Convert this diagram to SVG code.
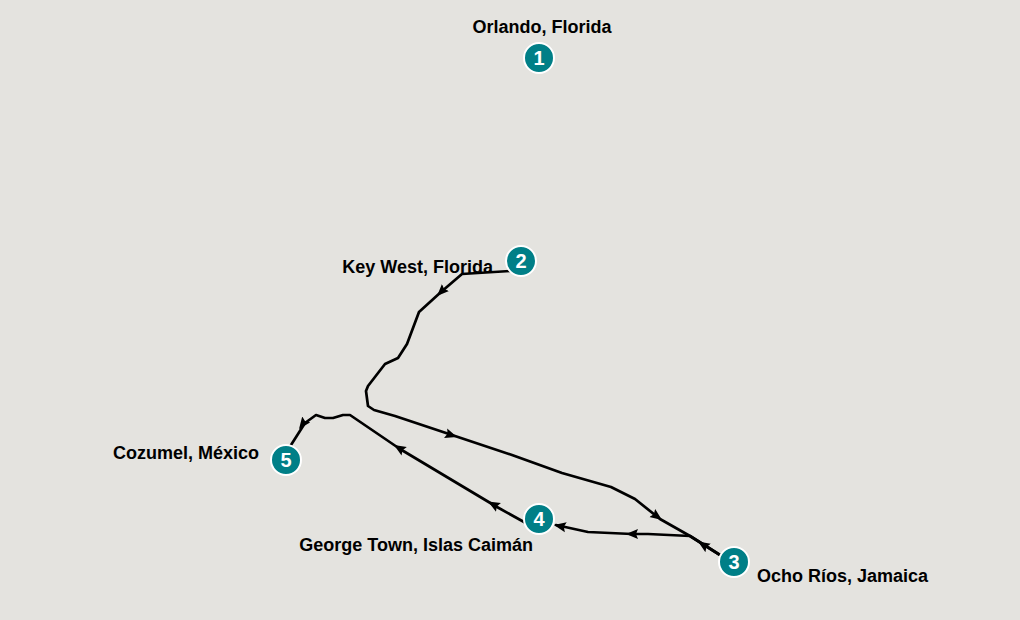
<svg xmlns="http://www.w3.org/2000/svg" width="1020" height="620" viewBox="0 0 1020 620">
<style>
.bg{fill:#e4e3df}
.route{fill:none;stroke:#000000;stroke-width:2.7;stroke-linejoin:round;stroke-linecap:round}
.arr{fill:none;stroke:none}
.pin{fill:#007f87;stroke:#ffffff;stroke-width:2}
.num{font-family:"Liberation Sans",Arial,sans-serif;font-weight:bold;font-size:20px;fill:#ffffff;text-anchor:middle}
.lbl{font-family:"Liberation Sans",Arial,sans-serif;font-weight:bold;font-size:18px;fill:#000000}
</style>
<defs>
<marker id="ah" markerUnits="userSpaceOnUse" markerWidth="14" markerHeight="12" refX="12" refY="5.5" orient="auto">
<path d="M0,0.5 L12,5.5 L0,10.5 L2,5.5 z" fill="#000000"/>
</marker>
</defs>
<rect class="bg" x="0" y="0" width="1020" height="620"/>
<g id="connectors">
<path id="r2-3" class="route" d="M510,271 L462,274 L441,292 L419,312 L407,344 L398,358 L385,364 L368,386 L366,391 L368,406 L374,410 L395,416 L452,435 L512,455 L562,473 L611,487 L635,499 L660,519 L690,536 L720,555"/>
<path id="r3-4" class="route" d="M720,555 L690,536 L648,534 L632,534 L588,532 L556,525"/>
<path id="r4-5" class="route" d="M524,522 L497,507 L400,449 L350,415 L343,415 L333,418 L325,418 L316,415 L305,423 L291,445"/>
<path class="arr" d="M444,289 L437,296" marker-end="url(#ah)"/>
<path class="arr" d="M448,434 L457,437" marker-end="url(#ah)"/>
<path class="arr" d="M655,515 L662,520" marker-end="url(#ah)"/>
<path class="arr" d="M705,546 L698,541.5" marker-end="url(#ah)"/>
<path class="arr" d="M635,534 L626,534" marker-end="url(#ah)"/>
<path class="arr" d="M562,526.5 L554,525" marker-end="url(#ah)"/>
<path class="arr" d="M496,506 L488,501.5" marker-end="url(#ah)"/>
<path class="arr" d="M402,450 L394,445" marker-end="url(#ah)"/>
<path class="arr" d="M305,421 L299,429" marker-end="url(#ah)"/>
</g>
<g id="node1">
<text class="lbl" x="542" y="33" text-anchor="middle">Orlando, Florida</text>
<circle class="pin" cx="539" cy="58" r="15"/>
<text class="num" x="539" y="65">1</text>
</g>
<g id="node2">
<text class="lbl" x="493" y="273" text-anchor="end">Key West, Florida</text>
<circle class="pin" cx="521" cy="261" r="15"/>
<text class="num" x="521" y="268">2</text>
</g>
<g id="node3">
<circle class="pin" cx="734" cy="562" r="15"/>
<text class="num" x="734" y="569">3</text>
<text class="lbl" x="757" y="582">Ocho Ríos, Jamaica</text>
</g>
<g id="node4">
<circle class="pin" cx="539" cy="519" r="15"/>
<text class="num" x="539" y="526">4</text>
<text class="lbl" x="533" y="551" text-anchor="end">George Town, Islas Caimán</text>
</g>
<g id="node5">
<text class="lbl" x="259" y="459" text-anchor="end">Cozumel, México</text>
<circle class="pin" cx="286" cy="460" r="15"/>
<text class="num" x="286" y="467">5</text>
</g>
</svg>
